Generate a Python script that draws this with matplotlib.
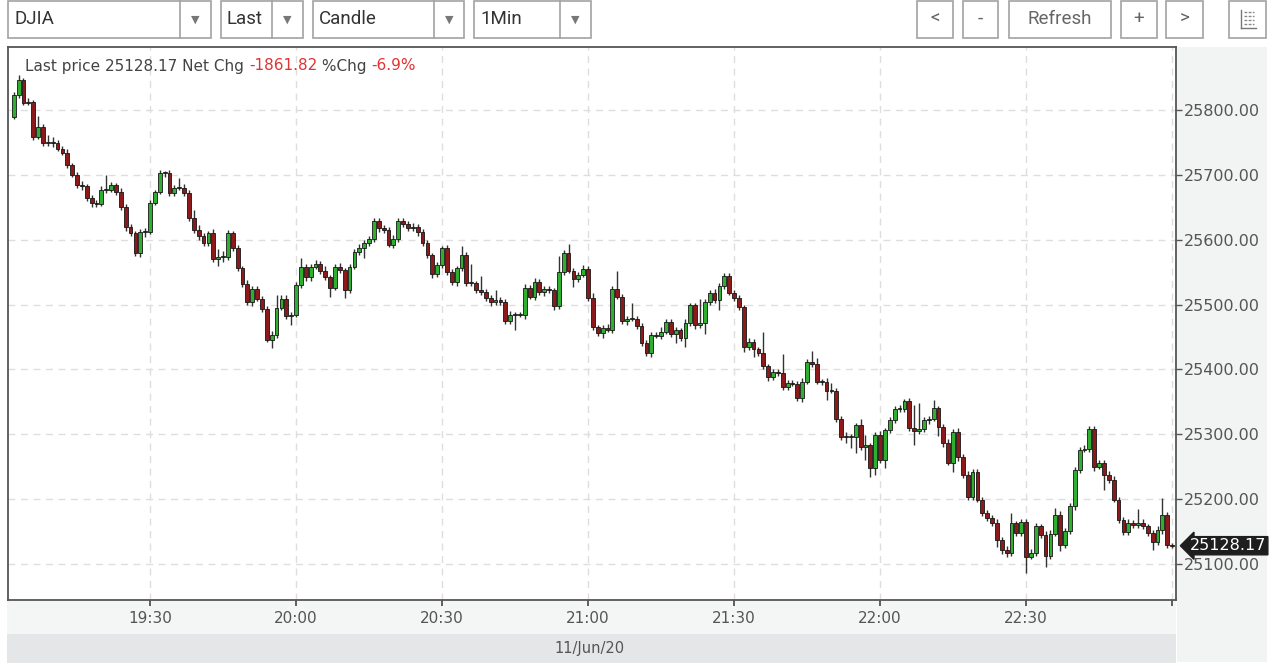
import matplotlib
matplotlib.use("Agg")
import matplotlib.pyplot as plt
from matplotlib.patches import Rectangle
from matplotlib.lines import Line2D
import numpy as np

# one-minute DJIA candles, 19:02 .. 23:00 (minutes counted from 19:00)
FIRST_MINUTE = 2
FIRST_OPEN = 25789

CLOSES = [
    25823, 25846, 25811, 25812, 25758, 25774, 25749, 25751, 25749, 25740,
    25734, 25715, 25700, 25684, 25682, 25664, 25657, 25655, 25677, 25677,
    25684, 25674, 25650, 25620, 25610, 25580, 25612, 25612, 25657, 25674,
    25703, 25703, 25672, 25680, 25680, 25672, 25633, 25615, 25605, 25595,
    25610, 25570, 25573, 25573, 25610, 25587, 25556, 25532, 25504, 25524,
    25509, 25493, 25445, 25453, 25495, 25509, 25482, 25484, 25530, 25558,
    25542, 25558, 25562, 25552, 25542, 25526, 25558, 25553, 25522, 25558,
    25581, 25587, 25595, 25601, 25629, 25618, 25615, 25592, 25601, 25629,
    25624, 25618, 25620, 25612, 25595, 25576, 25547, 25561, 25587, 25550,
    25535, 25556, 25576, 25533, 25533, 25522, 25519, 25510, 25504, 25507,
    25504, 25475, 25484, 25484, 25484, 25526, 25512, 25535, 25519, 25524,
    25522, 25497, 25550, 25580, 25552, 25539, 25546, 25555, 25510, 25465,
    25456, 25464, 25461, 25524, 25512, 25475, 25478, 25478, 25467, 25441,
    25425, 25453, 25452, 25458, 25473, 25455, 25460, 25448, 25472, 25499,
    25468, 25472, 25504, 25518, 25507, 25529, 25544, 25518, 25510, 25496,
    25435, 25442, 25431, 25425, 25405, 25388, 25396, 25394, 25373, 25379,
    25378, 25356, 25381, 25411, 25408, 25381, 25381, 25367, 25367, 25324,
    25296, 25296, 25296, 25314, 25280, 25283, 25248, 25299, 25260, 25306,
    25322, 25339, 25339, 25351, 25310, 25305, 25308, 25322, 25324, 25340,
    25311, 25286, 25256, 25304, 25265, 25237, 25203, 25242, 25199, 25179,
    25171, 25163, 25137, 25122, 25117, 25163, 25148, 25165, 25111, 25117,
    25158, 25145, 25113, 25147, 25176, 25130, 25151, 25189, 25245, 25276,
    25278, 25308, 25250, 25256, 25237, 25230, 25199, 25168, 25149, 25163,
    25160, 25163, 25158, 25148, 25134, 25152, 25176, 25130, 25128.17,
]

# wick length above the body / below the body, in index points
HI_WICK = [
    4, 8, 3, 6, 4, 16, 4, 10, 8, 5,
    4, 5, 3, 4, 6, 4, 5, 4, 6, 23,
    5, 4, 6, 5, 4, 4, 5, 6, 4, 3,
    4, 3, 5, 4, 15, 6, 5, 13, 8, 5,
    4, 6, 12, 10, 5, 4, 5, 4, 6, 4,
    5, 4, 4, 6, 20, 5, 6, 4, 5, 14,
    5, 4, 6, 5, 8, 4, 5, 6, 4, 5,
    5, 6, 5, 4, 5, 4, 5, 4, 6, 4,
    5, 4, 6, 4, 5, 4, 4, 5, 3, 5,
    4, 4, 14, 5, 30, 4, 22, 5, 4, 15,
    5, 4, 6, 4, 4, 5, 4, 6, 4, 5,
    5, 4, 25, 4, 14, 5, 4, 6, 5, 8,
    4, 5, 6, 5, 27, 4, 5, 24, 5, 4,
    4, 5, 5, 8, 5, 4, 5, 4, 5, 4,
    4, 37, 5, 4, 6, 4, 5, 5, 4, 5,
    4, 6, 5, 4, 33, 4, 5, 4, 30, 5,
    5, 4, 5, 5, 17, 9, 4, 5, 12, 4,
    4, 8, 5, 4, 9, 16, 4, 5, 6, 4,
    5, 4, 6, 4, 5, 35, 40, 5, 4, 13,
    4, 5, 6, 4, 5, 4, 6, 5, 4, 5,
    4, 5, 6, 4, 5, 15, 4, 5, 4, 6,
    5, 4, 6, 5, 10, 5, 4, 5, 5, 4,
    6, 4, 4, 5, 4, 6, 5, 4, 5, 6,
    5, 22, 6, 4, 5, 6, 25, 4, 2,
]
LO_WICK = [
    3, 4, 4, 3, 5, 3, 5, 4, 6, 4,
    4, 5, 3, 4, 5, 4, 6, 4, 3, 5,
    4, 5, 4, 6, 4, 5, 6, 8, 4, 3,
    4, 6, 5, 4, 3, 5, 4, 4, 5, 5,
    5, 4, 10, 8, 4, 5, 4, 5, 4, 6,
    4, 5, 3, 12, 4, 4, 5, 13, 4, 5,
    6, 5, 4, 5, 4, 14, 4, 5, 12, 4,
    4, 5, 16, 5, 4, 6, 5, 4, 5, 4,
    4, 5, 4, 6, 5, 4, 6, 5, 4, 5,
    5, 6, 4, 5, 4, 5, 4, 5, 6, 4,
    4, 5, 5, 23, 4, 6, 4, 5, 4, 6,
    4, 5, 4, 5, 4, 12, 5, 4, 5, 4,
    5, 8, 4, 5, 4, 5, 6, 4, 5, 5,
    5, 6, 4, 5, 4, 5, 14, 4, 14, 5,
    6, 4, 17, 5, 4, 15, 5, 4, 5, 4,
    8, 5, 12, 4, 5, 6, 5, 4, 5, 4,
    4, 5, 6, 4, 5, 4, 5, 14, 4, 5,
    5, 9, 17, 25, 4, 20, 14, 11, 5, 12,
    4, 5, 4, 5, 5, 22, 4, 5, 6, 4,
    13, 5, 4, 14, 6, 5, 4, 5, 4, 5,
    5, 4, 11, 6, 6, 4, 5, 5, 25, 4,
    4, 5, 17, 5, 4, 10, 5, 4, 5, 4,
    4, 5, 6, 4, 23, 5, 4, 5, 4, 5,
    5, 4, 4, 5, 12, 4, 5, 6, 3,
]

Y_TICKS = [25100, 25200, 25300, 25400, 25500, 25600, 25700, 25800]
X_TICKS = [30, 60, 90, 120, 150, 180, 210, 240]
X_LABELS = ["19:30", "20:00", "20:30", "21:00", "21:30", "22:00", "22:30", ""]
DATE_LABEL = "11/Jun/20"

LAST_PRICE = 25128.17
NET_CHG = -1861.82
PCT_CHG = -6.9

SELECTORS = ["DJIA", "Last", "Candle", "1Min"]
BUTTONS = ["<", "-", "Refresh", "+", ">"]

GREEN = "#2fae2f"
RED = "#8c1a1a"
TXT = "#555555"
BORDER = "#a2a2a2"

W, H = 1280, 670


def fx(x):
    return x / W


def fy(y):
    return 1 - y / H


def fig_rect(fig, x0, y0, x1, y1, zorder=1, **kw):
    r = Rectangle((fx(x0), fy(y1)), (x1 - x0) / W, (y1 - y0) / H,
                  transform=fig.transFigure, zorder=zorder, **kw)
    fig.patches.append(r)
    return r


def fig_line(fig, x0, y0, x1, y1, **kw):
    fig.add_artist(Line2D([fx(x0), fx(x1)], [fy(y0), fy(y1)],
                          transform=fig.transFigure, **kw))


def main():
    assert len(CLOSES) == len(HI_WICK) == len(LO_WICK)

    fig = plt.figure(figsize=(12.8, 6.7), dpi=100)
    fig.patch.set_facecolor("white")

    # grey panels around the plot (kept under the axes)
    fig_rect(fig, 1177, 47, 1267, 662, zorder=-5, facecolor="#f2f3f3", edgecolor="none")
    fig_rect(fig, 7, 601, 1176, 634, zorder=-5, facecolor="#f4f5f5", edgecolor="none")
    fig_rect(fig, 7, 634, 1176, 663, zorder=-5, facecolor="#e5e6e7", edgecolor="none")
    fig.text(fx(590), fy(648), DATE_LABEL, color=TXT, fontsize=10.5,
             ha="center", va="center")

    ax = fig.add_axes([fx(8), fy(600), (1176 - 8) / W, (600 - 47) / H])
    ax.set_facecolor("white")

    minutes = np.arange(FIRST_MINUTE, FIRST_MINUTE + len(CLOSES))
    closes = np.array(CLOSES, dtype=float)
    opens = np.concatenate([[FIRST_OPEN], closes[:-1]])
    tops = np.maximum(opens, closes)
    bots = np.minimum(opens, closes)
    highs = tops + np.array(HI_WICK)
    lows = bots - np.array(LO_WICK)
    up = closes >= opens

    ax.vlines(minutes, lows, highs, color="#333333", linewidth=1.0, zorder=2)
    ax.bar(minutes, np.maximum(tops - bots, 1.5), bottom=bots, width=0.78,
           color=np.where(up, GREEN, RED), edgecolor="#151515",
           linewidth=0.6, zorder=3)

    ax.set_xlim(0.82, 240.8)
    ax.set_ylim(25044.5, 25897)

    ax.set_xticks(X_TICKS)
    ax.set_xticklabels(X_LABELS)
    ax.set_yticks(Y_TICKS)
    ax.set_yticklabels([f"{v:.2f}" for v in Y_TICKS])
    ax.yaxis.tick_right()

    ax.tick_params(axis="x", length=4, width=1.2, color="#444444", pad=4,
                   labelsize=11, labelcolor=TXT)
    ax.tick_params(axis="y", length=4, width=1.0, color="#555555", pad=2,
                   labelsize=11.5, labelcolor=TXT)

    ax.set_axisbelow(True)
    ax.grid(True, linestyle=(0, (5, 4)), color="#dedede", linewidth=1.0)
    for side in ax.spines.values():
        side.set_color("#555555")
        side.set_linewidth(1.3)

    # last price tag
    ax.annotate(f"{LAST_PRICE:.2f}", xy=(1, LAST_PRICE),
                xycoords=ax.get_yaxis_transform(),
                xytext=(10, 0), textcoords="offset points",
                ha="left", va="center", color="white", fontsize=11.5,
                bbox=dict(boxstyle="larrow,pad=0.1", fc="#1e1e1e", ec="#1e1e1e"),
                annotation_clip=False, zorder=10)

    # header line inside the plot
    parts = [
        (f"Last price {LAST_PRICE:.2f} Net Chg ", "#444444"),
        (f"{NET_CHG:.2f}", "#e03333"),
        (" %Chg ", "#444444"),
        (f"{PCT_CHG:.1f}%", "#e03333"),
    ]
    prev = fig.text(fx(25), fy(66), parts[0][0], color=parts[0][1],
                    fontsize=11, ha="left", va="center")
    for s, c in parts[1:]:
        prev = ax.annotate(s, xy=(1, 0.5), xycoords=prev, ha="left",
                           va="center", color=c, fontsize=11,
                           annotation_clip=False)

    # toolbar: dropdown selectors
    sel_boxes = [(8, 180, 211), (221, 272, 303), (313, 434, 464), (474, 560, 591)]
    for label, (x0, xd, x1) in zip(SELECTORS, sel_boxes):
        fig_rect(fig, x0, 1, x1, 38, facecolor="white", edgecolor=BORDER, linewidth=1.2)
        fig_line(fig, xd, 1, xd, 38, color=BORDER, linewidth=1.2)
        fig.text(fx(x0 + 6), fy(19), label, color="#333333", fontsize=13.5,
                 family="Roboto", ha="left", va="center")
        fig.text(fx((xd + x1) / 2), fy(20), "\u25bc", color="#777777",
                 fontsize=8, ha="center", va="center")

    # toolbar: buttons on the right
    btn_boxes = [(917, 953), (963, 998), (1009, 1111), (1121, 1157), (1166, 1203)]
    for label, (x0, x1) in zip(BUTTONS, btn_boxes):
        fig_rect(fig, x0, 1, x1, 38, facecolor="white", edgecolor=BORDER, linewidth=1.2)
        fig.text(fx((x0 + x1) / 2), fy(19), label, color="#666666", fontsize=13.5,
                 family="Roboto", ha="center", va="center")

    # table icon
    fig_rect(fig, 1229, 1, 1266, 38, facecolor="white", edgecolor=BORDER, linewidth=1.2)
    fig_line(fig, 1241, 10, 1241, 28, color="#777777", linewidth=1.0)
    fig_line(fig, 1241, 28, 1256, 28, color="#777777", linewidth=1.0)
    for yy in (12, 16, 20, 24):
        fig_line(fig, 1244, yy, 1254, yy, color="#888888", linewidth=1.0,
                 linestyle=(0, (2, 1)))

    fig.savefig("out.png", dpi=100)
    plt.close(fig)


if __name__ == "__main__":
    main()
